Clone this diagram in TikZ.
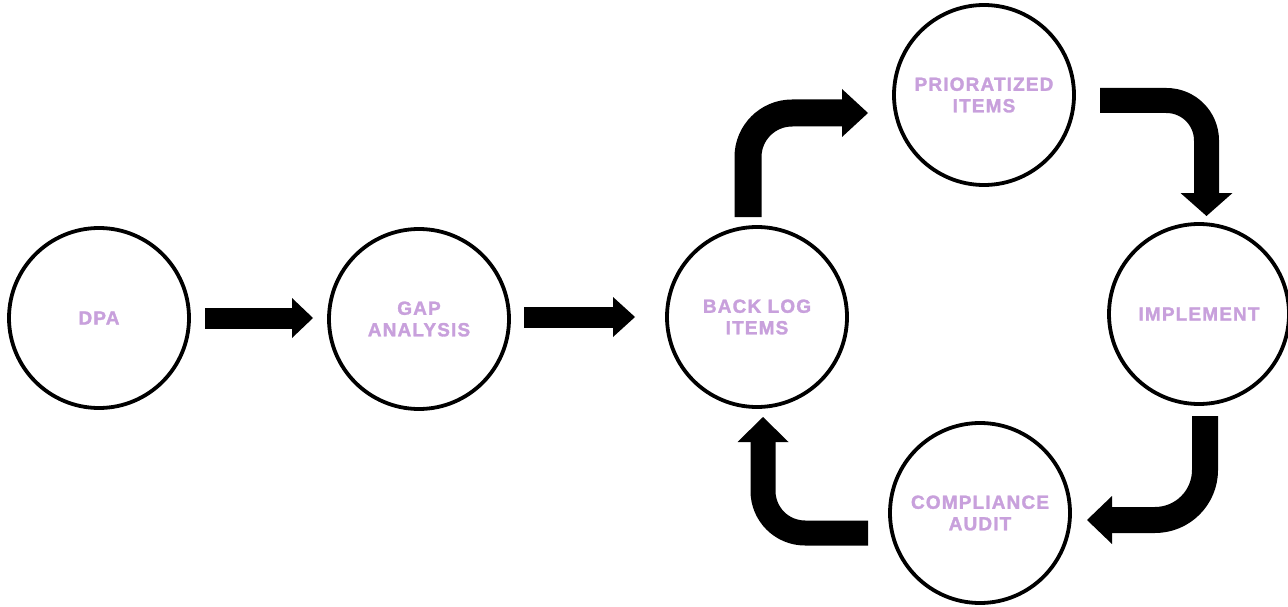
\documentclass[tikz,border=0pt]{standalone}
\usepackage{fontspec}
\setmainfont{Liberation Sans}
\newfontfamily\lblfont[LetterSpace=6,FakeBold=1.6]{Liberation Sans Bold}
\usetikzlibrary{arrows.meta,calc}
\definecolor{lav}{RGB}{200,160,220}
\begin{document}
\begin{tikzpicture}[x=1pt,y=-1pt,
  stage/.style={circle,draw=black,line width=3.8pt,minimum size=180pt,inner sep=0pt,outer sep=0pt,
    align=center,text=lav,font=\lblfont\fontsize{19}{21.5}\selectfont},
  fat/.style={draw=black,line cap=butt,line join=round}]
\useasboundingbox[fill=white] (0,0) rectangle (1288,607);
\node[stage] (dpa) at (99,318) {DPA};
\node[stage] (gap) at (419,319) {GAP\\ANALYSIS};
\node[stage] (bl)  at (757,317) {BACK LOG\\ITEMS};
\node[stage] (pr)  at (984,95)  {PRIORATIZED\\ITEMS};
\node[stage] (im)  at (1199,314) {IMPLEMENT};
\node[stage] (ca)  at (980,513) {COMPLIANCE\\AUDIT};
% straight arrows
\draw[fat,line width=21pt,-{Triangle[width=40pt,length=21pt,line width=0pt]}]
  ($(dpa.east)+(16,0)$) -- ($(dpa.east -| gap.west)+(-16,0)$);
\draw[fat,line width=21pt,-{Triangle[width=40pt,length=22pt,line width=0pt]}]
  ($(gap.east)+(15,-2)$) -- ($(gap.east -| bl.west)+(-32,-2)$);
% curved arrows
\draw[fat,line width=27pt,rounded corners=44pt,-{Triangle[width=48pt,length=26pt,line width=0pt]}]
  ($(bl.north)+(-9,-10)$) |- ($(pr.west)+(-26,18)$);
\draw[fat,line width=25pt,rounded corners=40pt,-{Triangle[width=52pt,length=23pt,line width=0pt]}]
  ($(pr.east)+(26,5.5)$) -| ($(im.north)+(7.5,-8)$);
\draw[fat,line width=26pt,rounded corners=50pt,-{Triangle[width=48pt,length=25pt,line width=0pt]}]
  ($(im.south)+(6,12)$) |- ($(ca.east)+(17,7)$);
\draw[fat,line width=25pt,rounded corners=42pt,-{Triangle[width=51pt,length=25pt,line width=0pt]}]
  ($(ca.west)+(-22,20)$) -| ($(bl.south)+(6,10)$);
\end{tikzpicture}
\end{document}
